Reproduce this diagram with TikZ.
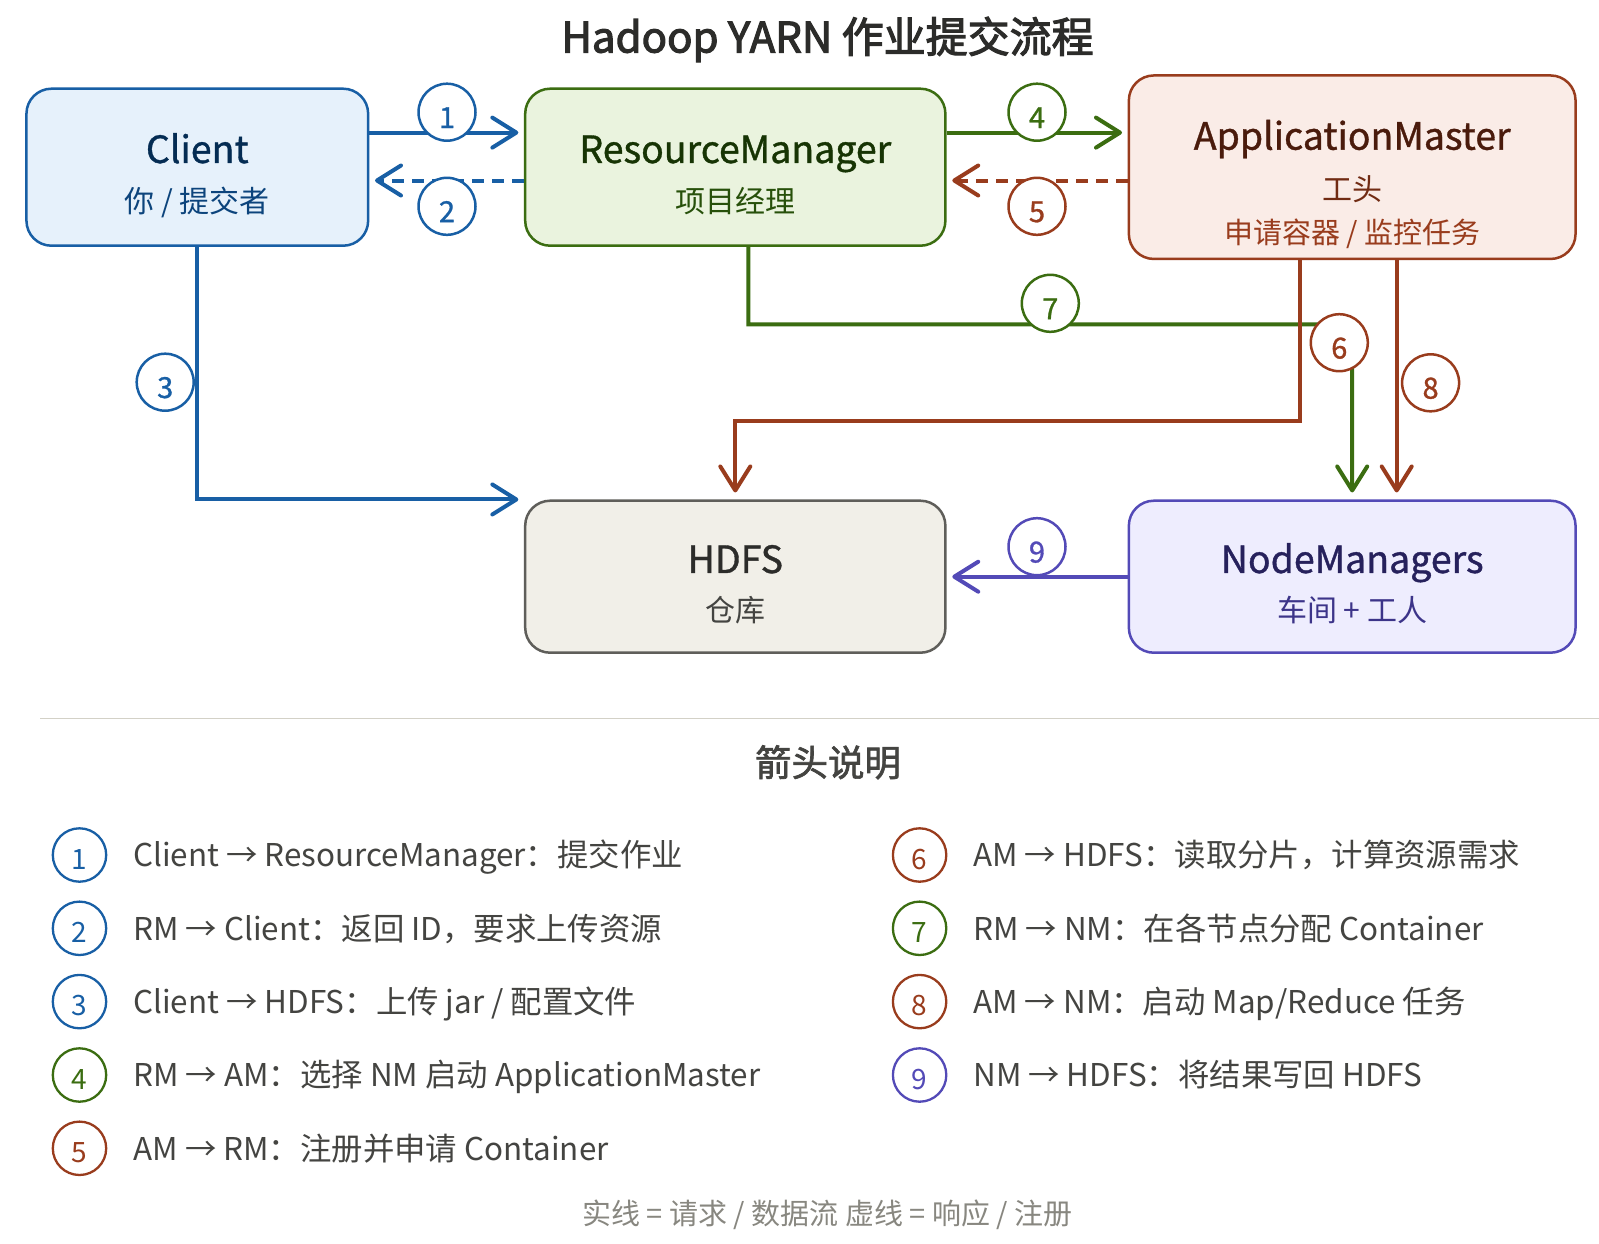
\documentclass[tikz,border=0pt]{standalone}
\usepackage{fontspec}
\setmainfont{Noto Sans CJK SC}
\newfontfamily\medfont{Noto Sans CJK SC}[FakeBold=1]
\newfontfamily\semifont{Noto Sans CJK SC}[FakeBold=1.8]
\newfontfamily\titlefont{Noto Sans CJK SC}[FakeBold=2.6]
\usetikzlibrary{arrows.meta}
\definecolor{b50}{HTML}{E6F1FB}\definecolor{b6}{HTML}{185FA5}\definecolor{b8}{HTML}{0C447C}\definecolor{b9}{HTML}{042C53}
\definecolor{g50}{HTML}{EAF3DE}\definecolor{g6}{HTML}{3B6D11}\definecolor{g8}{HTML}{27500A}\definecolor{g9}{HTML}{173404}
\definecolor{c50}{HTML}{FAECE7}\definecolor{c6}{HTML}{993C1D}\definecolor{c8}{HTML}{712B13}\definecolor{c9}{HTML}{4A1B0C}
\definecolor{n50}{HTML}{F1EFE8}\definecolor{n6}{HTML}{5F5E5A}\definecolor{n8}{HTML}{444441}\definecolor{n9}{HTML}{2C2C2A}
\definecolor{n4}{HTML}{888780}\definecolor{n2}{HTML}{D3D1C7}
\definecolor{p50}{HTML}{EEEDFE}\definecolor{p6}{HTML}{534AB7}\definecolor{p8}{HTML}{3C3489}\definecolor{p9}{HTML}{26215C}
\tikzset{
  lbl/.code={\pgfmathsetmacro\lblh{0.8*#1}\pgfmathsetmacro\lbld{0.05*#1}%
    \tikzset{font=\fontsize{#1}{#1}\selectfont,text height=\lblh pt,text depth=\lbld pt,inner sep=0pt}},
  mlbl/.code={\pgfmathsetmacro\lblh{0.8*#1}\pgfmathsetmacro\lbld{0.05*#1}%
    \tikzset{font=\medfont\fontsize{#1}{#1}\selectfont,text height=\lblh pt,text depth=\lbld pt,inner sep=0pt}},
  slbl/.code={\pgfmathsetmacro\lblh{0.8*#1}\pgfmathsetmacro\lbld{0.05*#1}%
    \tikzset{font=\semifont\fontsize{#1}{#1}\selectfont,text height=\lblh pt,text depth=\lbld pt,inner sep=0pt}},
  tlbl/.code={\pgfmathsetmacro\lblh{0.8*#1}\pgfmathsetmacro\lbld{0.05*#1}%
    \tikzset{font=\titlefont\fontsize{#1}{#1}\selectfont,text height=\lblh pt,text depth=\lbld pt,inner sep=0pt}},
  box/.style={draw, rounded corners=25pt, line width=2.5pt, inner sep=0pt},
  conn/.style={line width=4pt},
  dsh/.style={dash pattern=on 12pt off 8pt},
  badge/.style={circle, draw=#1, text=#1, fill=white, line width=2.5pt, minimum size=57pt, inner sep=0pt,
    font=\medfont\fontsize{29}{29}\selectfont, text height=33pt, text depth=1.4pt},
  lbadge/.style={circle, draw=#1, text=#1, fill=white, line width=2.3pt, minimum size=53.4pt, inner sep=0pt,
    font=\fontsize{28}{28}\selectfont, text height=29.8pt, text depth=1.4pt},
  ltext/.style={lbl=31.4, text=n8, anchor=west},
}
\begin{document}
\begin{tikzpicture}[x=1pt,y=-1pt, >={Straight Barb[length=24pt,width=30pt,round]}]
\useasboundingbox (0,0) rectangle (1599,1243);
\fill[white] (0,0) rectangle (1599,1243);

% title
\node[tlbl=42, text=n9] (title) at (827.5,36.7) {Hadoop YARN 作业提交流程};

% boxes
\node[box, fill=b50, draw=b6, minimum width=341.7, minimum height=157] (client) at (197.3,167.2) {};
\node[box, fill=g50, draw=g6, minimum width=420.2, minimum height=157] (rm) at (735.3,167.2) {};
\node[box, fill=c50, draw=c6, minimum width=446.7, minimum height=183.5] (am) at (1352.2,167.2) {};
\node[box, fill=n50, draw=n6, minimum width=420.2, minimum height=152] (hdfs) at (735.3,576.7) {};
\node[box, fill=p50, draw=p6, minimum width=446.7, minimum height=152] (nm) at (1352.2,576.7) {};

\node[mlbl=37.5, text=b9] (clientT) at (197.3,148.9) {Client};
\node[lbl=30, text=b8] (clientS) at (197.3,200.9) {你 / 提交者};
\node[mlbl=37.5, text=g9] (rmT) at (735.3,148.9) {ResourceManager};
\node[lbl=30, text=g8] (rmS) at (735.3,200.9) {项目经理};
\node[mlbl=37.5, text=c9] (amT) at (1352.2,135.6) {ApplicationMaster};
\node[lbl=30, text=c8] (amS) at (1352.2,189.7) {工头};
\node[lbl=29, text=c6] (amS2) at (1352.2,232.5) {申请容器 / 监控任务};
\node[mlbl=37.5, text=n9] (hdfsT) at (735.3,558.9) {HDFS};
\node[lbl=30, text=n8] (hdfsS) at (735.3,609.8) {仓库};
\node[mlbl=37.5, text=p9] (nmT) at (1352.2,558.9) {NodeManagers};
\node[lbl=30, text=p8] (nmS) at (1352.2,609.8) {车间 + 工人};

% connectors
\coordinate (j7) at (748.4,324.3);
\coordinate (j6) at (1300.4,421);
\draw[conn,b6,->] ([yshift=34.6]client.east) -- ([yshift=34.6,xshift=-5.6]rm.west);
\draw[conn,b6,->,dsh] ([yshift=-13.3]rm.west) -- ([yshift=-13.3,xshift=5.6]client.east);
\draw[conn,b6,->] (client.south) |- ([xshift=-5.6]hdfs.north west);
\draw[conn,g6,->] ([yshift=34.6]rm.east) -- ([yshift=34.6,xshift=-5.6]am.west);
\draw[conn,c6,->,dsh] ([yshift=-13.3]am.west) -- ([yshift=-13.3,xshift=5.6]rm.east);
\draw[conn,g6,->] ([xshift=13.1]rm.south) -- (j7) -| ([yshift=7]nm.north);
\draw[conn,c6,->] ([xshift=-51.8]am.south) -- (j6) -| ([yshift=7]hdfs.north);
\draw[conn,c6,->] ([xshift=44.5]am.south) -- ([xshift=44.5,yshift=7]nm.north);
\draw[conn,p6,->] (nm.west) -- ([xshift=5.6]hdfs.east);

% badges
\node[badge=b6] (n1) at (447,112.2) {1};
\node[badge=b6] (n2) at (447,206.3) {2};
\node[badge=b6] (n3) at (165.2,382.2) {3};
\node[badge=g6] (n4) at (1037,112.2) {4};
\node[badge=c6] (n5) at (1037,206.3) {5};
\node[badge=c6] (n6) at (1339.3,342.7) {6};
\node[badge=g6] (n7) at (1050.3,303.3) {7};
\node[badge=c6] (n8) at (1430.6,382.8) {8};
\node[badge=p6] (n9) at (1037,546.7) {9};

% legend
\draw[n2, line width=1.5pt] (40,718.7) -- (1599,718.7);
\node[slbl=36.5, text=n8] (lhead) at (828,762.5) {箭头说明};

\node[lbadge=b6] (l1) at (79.5,855) {1};
\node[ltext] (t1) at (133.2,855) {Client → ResourceManager：提交作业};
\node[lbadge=b6] (l2) at (79.5,928.3) {2};
\node[ltext] (t2) at (133.2,928.3) {RM → Client：返回 ID，要求上传资源};
\node[lbadge=b6] (l3) at (79.5,1001.6) {3};
\node[ltext] (t3) at (133.2,1001.6) {Client → HDFS：上传 jar / 配置文件};
\node[lbadge=g6] (l4) at (79.5,1075) {4};
\node[ltext] (t4) at (133.2,1075) {RM → AM：选择 NM 启动 ApplicationMaster};
\node[lbadge=c6] (l5) at (79.5,1148.3) {5};
\node[ltext] (t5) at (133.2,1148.3) {AM → RM：注册并申请 Container};

\node[lbadge=c6] (l6) at (919.6,855) {6};
\node[ltext] (t6) at (973.1,855) {AM → HDFS：读取分片，计算资源需求};
\node[lbadge=g6] (l7) at (919.6,928.3) {7};
\node[ltext] (t7) at (973.1,928.3) {RM → NM：在各节点分配 Container};
\node[lbadge=c6] (l8) at (919.6,1001.6) {8};
\node[ltext] (t8) at (973.1,1001.6) {AM → NM：启动 Map/Reduce 任务};
\node[lbadge=p6] (l9) at (919.6,1075) {9};
\node[ltext] (t9) at (973.1,1075) {NM → HDFS：将结果写回 HDFS};

\node[lbl=29, text=n4] (foot) at (827.5,1213.3) {实线 = 请求 / 数据流 虚线 = 响应 / 注册};
\end{tikzpicture}
\end{document}
